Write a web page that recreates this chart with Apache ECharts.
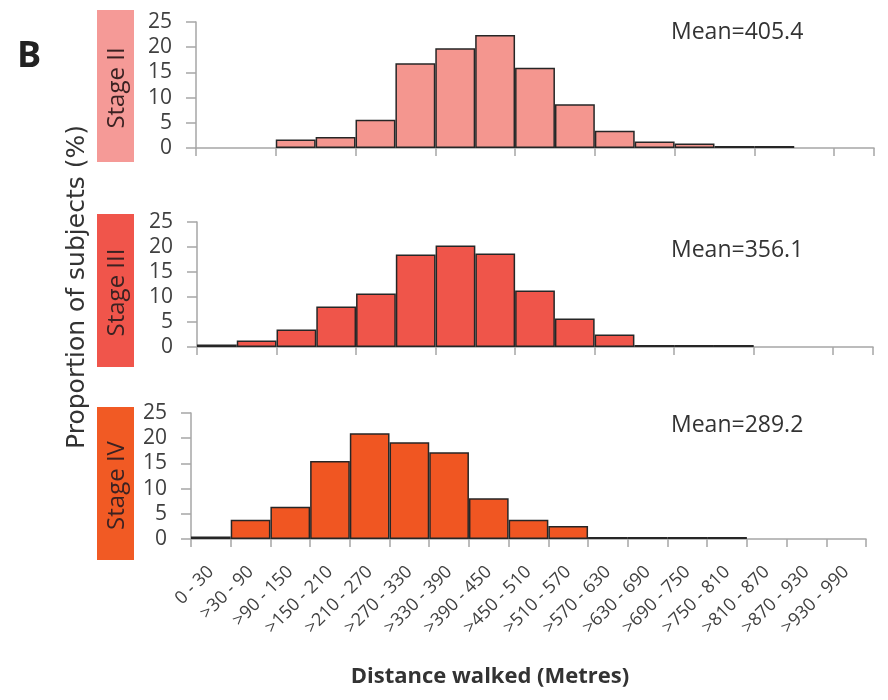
<!DOCTYPE html>
<html>
<head>
<meta charset="utf-8">
<script src="https://cdn.jsdelivr.net/npm/echarts@6/dist/echarts.min.js"></script>
<style>
  html, body { margin: 0; padding: 0; background: #fff; }
  #chart { width: 888px; height: 700px; }
</style>
</head>
<body>
<div id="chart"></div>
<script>
// distance bins (metres)
const categories = ['0 - 30', '>30 - 90', '>90 - 150', '>150 - 210', '>210 - 270', '>270 - 330',
  '>330 - 390', '>390 - 450', '>450 - 510', '>510 - 570', '>570 - 630', '>630 - 690',
  '>690 - 750', '>750 - 810', '>810 - 870', '>870 - 930', '>930 - 990'];

// proportion of subjects (%) per stage
const stage2 = [null, null, 1.7, 2.2, 5.6, 16.8, 19.8, 22.4, 15.9, 8.7, 3.4, 1.3, 0.9, 0.4, 0.4, null, null];
const stage3 = [0.5, 1.3, 3.5, 8.1, 10.7, 18.5, 20.3, 18.7, 11.3, 5.7, 2.5, 0.4, 0.4, 0.4, null, null, null];
const stage4 = [0.5, 3.8, 6.4, 15.5, 21.0, 19.2, 17.2, 8.1, 3.8, 2.6, 0.4, 0.4, 0.4, 0.4, null, null, null];

const stageNames = ['Stage II', 'Stage III', 'Stage IV'];
const means = ['Mean=405.4', 'Mean=356.1', 'Mean=289.2'];

const font = '"Open Sans", sans-serif';
const colors = ['#F4968F', '#EF554A', '#F05622'];
const boxColors = ['#F59A97', '#F0554B', '#F15A24'];
const grids = [
  { left: 196, right: 14, top: 22, height: 126 },
  { left: 197, right: 15, top: 222, height: 125 },
  { left: 191, right: 22, top: 413, height: 126 }
];
const boxes = [
  { y: 10, h: 152 },
  { y: 214, h: 153 },
  { y: 407, h: 153 }
];
const meanTop = [21, 239, 414];

const chart = echarts.init(document.getElementById('chart'));

const xAxes = grids.map((g, i) => ({
  type: 'category',
  gridIndex: i,
  data: categories,
  boundaryGap: true,
  axisLine: { lineStyle: { color: '#A6A6A6', width: 1.5 } },
  axisTick: { show: true, length: 8, lineStyle: { color: '#A6A6A6', width: 1.5 } },
  axisLabel: i === 2 ? {
    show: true, interval: 0, rotate: 45, margin: 30,
    fontFamily: font, fontSize: 18, color: '#404040'
  } : { show: false }
}));

const yAxes = grids.map((g, i) => ({
  type: 'value',
  gridIndex: i,
  min: 0, max: 25, interval: 5,
  axisLine: { show: true, lineStyle: { color: '#A6A6A6', width: 1.5 } },
  axisTick: { show: true, length: 10, lineStyle: { color: '#A6A6A6', width: 1.5 } },
  axisLabel: { margin: 24, fontFamily: font, fontSize: 21, color: '#404040' },
  splitLine: { show: false }
}));

const seriesData = [stage2, stage3, stage4];
const series = seriesData.map((d, i) => ({
  type: 'bar',
  name: stageNames[i],
  xAxisIndex: i,
  yAxisIndex: i,
  data: d,
  barCategoryGap: '0%',
  itemStyle: { color: colors[i], borderColor: '#262626', borderWidth: 1.5 },
  silent: true
}));

const graphic = [];
boxes.forEach((b, i) => {
  graphic.push({
    type: 'rect',
    shape: { x: 97, y: b.y, width: 37, height: b.h },
    style: { fill: boxColors[i] }
  });
  graphic.push({
    type: 'text',
    x: 117, y: b.y + b.h / 2 + 2,
    rotation: Math.PI / 2,
    style: {
      text: stageNames[i], font: '24px ' + font, fill: '#3b2222',
      align: 'center', verticalAlign: 'middle'
    }
  });
});
graphic.push({
  type: 'text', x: 77, y: 287, rotation: Math.PI / 2,
  style: { text: 'Proportion of subjects (%)', font: '25px "DejaVu Sans", sans-serif', fill: '#333',
    align: 'center', verticalAlign: 'middle' }
});
graphic.push({
  type: 'text', x: 17, y: 39,
  style: { text: 'B', font: 'bold 36px ' + font, fill: '#222', align: 'left', verticalAlign: 'top' }
});
graphic.push({
  type: 'text', x: 490, y: 677,
  style: { text: 'Distance walked (Metres)', font: 'bold 22px ' + font, fill: '#333',
    align: 'center', verticalAlign: 'middle' }
});

const option = {
  animation: false,
  backgroundColor: '#fff',
  grid: grids,
  xAxis: xAxes,
  yAxis: yAxes,
  title: means.map((m, i) => ({
    text: m, left: 671, top: meanTop[i], padding: 0,
    textStyle: { fontFamily: font, fontSize: 23, fontWeight: 'normal', color: '#333' }
  })),
  series: series,
  graphic: graphic
};

chart.setOption(option);
</script>
</body>
</html>
